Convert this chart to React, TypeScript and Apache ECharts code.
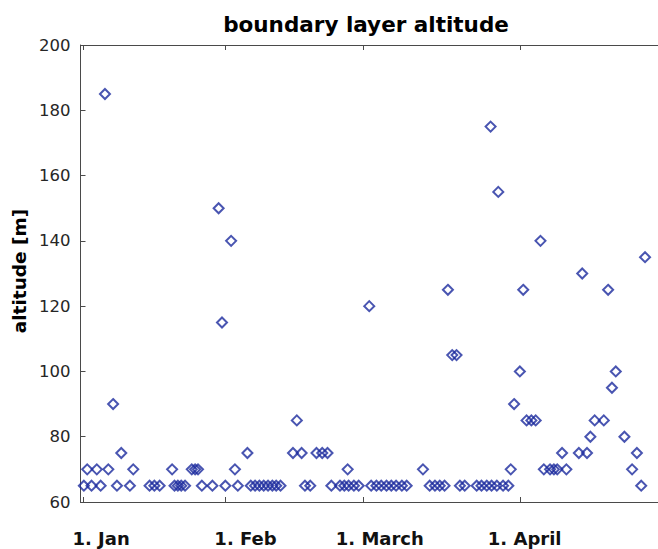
import React, { useEffect, useRef } from "react";
import * as echarts from "echarts";

// Day of year (1 = 1 Jan) of each boundary-layer sounding and its altitude in metres
const days: number[] = [
  1.1, 1.8, 2.7, 3.8, 4.6, 5.5, 6.2, 7.2, 8.0, 8.9,
  10.7, 11.4, 14.8, 15.8, 16.9, 19.5, 20.0, 20.7, 21.4, 22.2,
  23.6, 24.3, 24.9, 25.7, 27.9, 29.2, 29.9, 30.6, 31.8, 32.6,
  33.2, 35.2, 35.9, 36.8, 37.7, 38.6, 39.5, 40.4, 41.2, 42.1,
  44.7, 45.5, 46.5, 47.2, 48.3, 49.6, 50.8, 51.9, 52.7, 54.5,
  55.4, 56.1, 56.3, 57.4, 58.4, 60.6, 61.0, 62.1, 63.1, 64.2,
  65.2, 66.2, 67.4, 68.4, 71.8, 73.2, 74.3, 75.3, 76.3, 77.0,
  77.9, 78.8, 79.5, 80.5, 83.0, 84.0, 85.1, 85.9, 86.1, 87.2,
  87.5, 88.5, 89.6, 90.1, 90.8, 92.0, 92.7, 93.4, 94.4, 95.3,
  96.3, 97.0, 98.3, 99.1, 99.8, 100.8, 101.7, 104.3, 105.0, 106.0,
  106.7, 107.6, 109.5, 110.4, 111.2, 112.0, 113.8, 115.4, 116.4, 117.3,
  118.1,
];

const altitudes: number[] = [
  65, 70, 65, 70, 65, 185, 70, 90, 65, 75,
  65, 70, 65, 65, 65, 70, 65, 65, 65, 65,
  70, 70, 70, 65, 65, 150, 115, 65, 140, 70,
  65, 75, 65, 65, 65, 65, 65, 65, 65, 65,
  75, 85, 75, 65, 65, 75, 75, 75, 65, 65,
  65, 70, 65, 65, 65, 120, 65, 65, 65, 65,
  65, 65, 65, 65, 70, 65, 65, 65, 65, 125,
  105, 105, 65, 65, 65, 65, 65, 175, 65, 65,
  155, 65, 65, 70, 90, 100, 125, 85, 85, 85,
  140, 70, 70, 70, 70, 75, 70, 75, 130, 75,
  80, 85, 85, 125, 95, 100, 80, 70, 75, 65,
  135,
];

// Month ticks and where their labels sit along the time axis
const monthTicks: number[] = [1.0, 30.5, 59.4, 92.0];
const monthLabelSpots: number[] = [4.7, 34.8, 62.8, 93.0];
const monthLabels: string[] = ["1. Jan", "1. Feb", "1. March", "1. April"];

const yTicks: number[] = [60, 80, 100, 120, 140, 160, 180, 200];

const FONT = "'DejaVu Sans', 'Liberation Sans', sans-serif";
const AXIS_COLOR = "#4a4a4a";
const TEXT_COLOR = "#262626";
const MARKER_COLOR = "#1b2a9e";

export default function App() {
  const ref = useRef<HTMLDivElement>(null);

  useEffect(() => {
    if (!ref.current) return;
    const chart = echarts.init(ref.current, undefined, { renderer: "svg" });

    const points = days.map((d, i) => [d, altitudes[i]]);

    const labelFor = (v: number) => {
      const idx = monthLabelSpots.findIndex((p) => Math.abs(p - v) < 0.01);
      return idx >= 0 ? monthLabels[idx] : "";
    };

    chart.setOption({
      animation: false,
      backgroundColor: "#ffffff",
      grid: { left: 80.5, right: 0, top: 45, bottom: 47, containLabel: false },
      xAxis: [
        {
          type: "value",
          position: "bottom",
          min: 0.4,
          max: 120.8,
          axisLine: { show: true, onZero: false, lineStyle: { color: AXIS_COLOR, width: 1 } },
          axisTick: {
            show: true,
            inside: true,
            length: 5,
            customValues: monthTicks,
            lineStyle: { color: AXIS_COLOR },
          },
          axisLabel: {
            show: true,
            customValues: monthLabelSpots,
            formatter: (v: number) => labelFor(v),
            margin: 36,
            verticalAlign: "middle",
            color: "#111111",
            fontFamily: FONT,
            fontWeight: "bold",
            fontSize: 18,
          },
          splitLine: { show: false },
        },
        {
          type: "value",
          position: "top",
          min: 0.4,
          max: 120.8,
          axisLine: { show: true, onZero: false, lineStyle: { color: AXIS_COLOR, width: 1 } },
          axisTick: {
            show: true,
            inside: true,
            length: 5,
            customValues: monthTicks,
            lineStyle: { color: AXIS_COLOR },
          },
          axisLabel: { show: false },
          splitLine: { show: false },
        },
      ],
      yAxis: {
        type: "value",
        min: 60,
        max: 200,
        interval: 20,
        axisLine: { show: true, onZero: false, lineStyle: { color: AXIS_COLOR, width: 1 } },
        axisTick: {
          show: true,
          inside: true,
          length: 5,
          customValues: yTicks,
          lineStyle: { color: AXIS_COLOR },
        },
        axisLabel: {
          margin: 10,
          color: TEXT_COLOR,
          fontFamily: FONT,
          fontSize: 16.5,
        },
        splitLine: { show: false },
      },
      graphic: [
        {
          type: "text",
          x: 366,
          y: 24,
          style: {
            text: "boundary layer altitude",
            align: "center",
            verticalAlign: "middle",
            fill: "#000000",
            font: `bold 21.5px ${FONT}`,
          },
        },
        {
          type: "text",
          x: 19.5,
          y: 271,
          rotation: Math.PI / 2,
          style: {
            text: "altitude [m]",
            align: "center",
            verticalAlign: "middle",
            fill: "#000000",
            font: `bold 18.5px ${FONT}`,
          },
        },
      ],
      series: [
        {
          type: "scatter",
          xAxisIndex: 0,
          data: points,
          symbol: "diamond",
          symbolSize: [10, 10],
          itemStyle: {
            color: "rgba(0,0,0,0)",
            borderColor: MARKER_COLOR,
            borderWidth: 2,
          },
          emphasis: { disabled: true },
        },
      ],
    });

    return () => chart.dispose();
  }, []);

  return (
    <div
      ref={ref}
      style={{ position: "absolute", left: 0, top: 0, width: 658, height: 549, background: "#fff" }}
    />
  );
}
